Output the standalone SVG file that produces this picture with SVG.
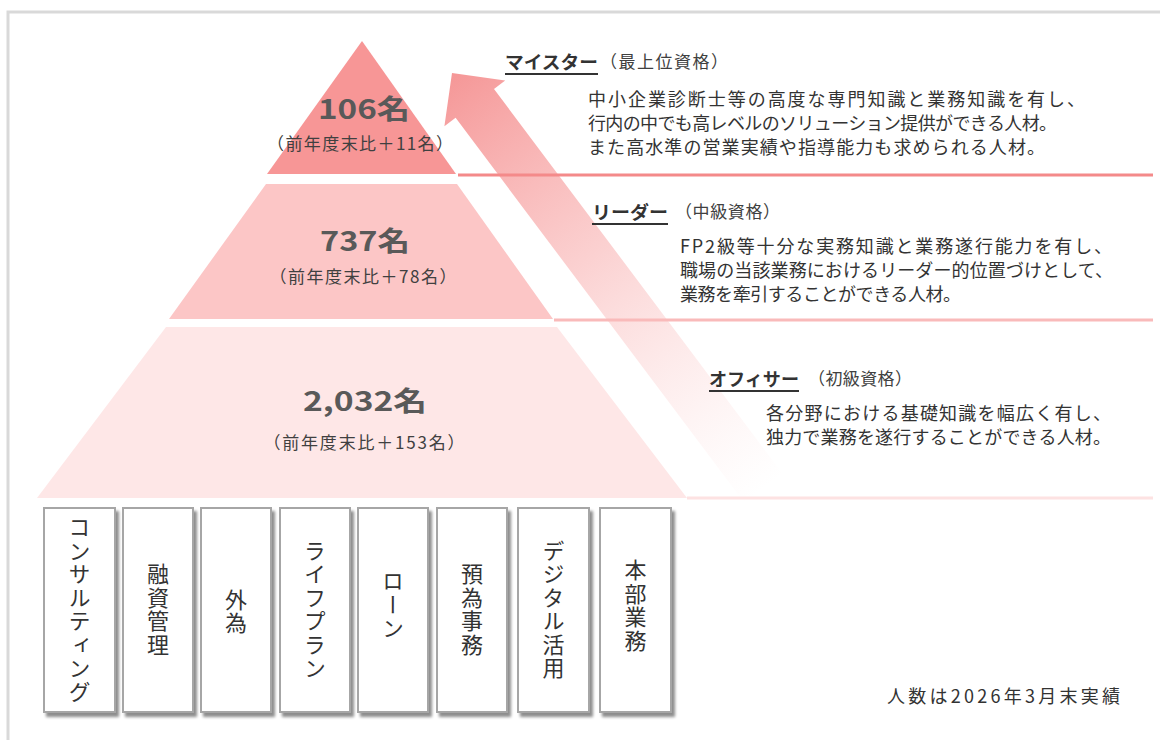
<svg xmlns="http://www.w3.org/2000/svg" width="1160" height="740" viewBox="0 0 1160 740">
<defs>
<linearGradient id="arrowGrad" gradientUnits="userSpaceOnUse" x1="452" y1="73" x2="764" y2="489">
<stop offset="0" stop-color="#f59797" stop-opacity="1"/>
<stop offset="0.45" stop-color="#f8acac" stop-opacity="0.55"/>
<stop offset="1" stop-color="#fbd0d0" stop-opacity="0"/>
</linearGradient>
<filter id="shadow" x="-20%" y="-10%" width="150%" height="130%">
<feGaussianBlur in="SourceAlpha" stdDeviation="1.6"/>
<feOffset dx="3" dy="4" result="b"/>
<feComponentTransfer><feFuncA type="linear" slope="0.45"/></feComponentTransfer>
<feMerge><feMergeNode/><feMergeNode in="SourceGraphic"/></feMerge>
</filter>
<style>
text { font-family: "Noto Sans CJK JP", "Noto Sans", sans-serif; }
.num { font-size: 27px; font-weight: bold; fill: #595959; }
.sub { font-size: 17px; fill: #404040; }
.title { font-size: 18px; font-weight: bold; fill: #333333; }
.paren { font-size: 17px; fill: #404040; }
.desc { font-size: 18px; fill: #333333; }
.uline { stroke: #333333; stroke-width: 1.8; }
.box { fill: #ffffff; stroke: #a6a6a6; stroke-width: 2; }
.vt { font-size: 22px; fill: #333333; writing-mode: vertical-rl; text-orientation: upright; letter-spacing: 1.5px; }
.sep { stroke-width: 3; fill: none; }
</style>
</defs>

<rect x="8" y="12" width="1170" height="760" fill="#ffffff" stroke="#d9d9d9" stroke-width="3"/>

<g id="tier-meister">
<polygon points="362,41 456,174 267,174" fill="#f79696"/>
<text class="num" x="364" y="119" text-anchor="middle" textLength="92" lengthAdjust="spacingAndGlyphs">106名</text>
<text class="sub" x="360" y="150" text-anchor="middle" textLength="186" lengthAdjust="spacing">（前年度末比＋11名）</text>
</g>

<g id="tier-leader">
<polygon points="266,184 457,184 553,319 169,319" fill="#fcc6c6"/>
<text class="num" x="365" y="251" text-anchor="middle" textLength="90" lengthAdjust="spacingAndGlyphs">737名</text>
<text class="sub" x="363" y="283" text-anchor="middle" textLength="187" lengthAdjust="spacing">（前年度末比＋78名）</text>
</g>

<g id="tier-officer">
<polygon points="166,327 557,327 687,498 37,498" fill="#fee7e7"/>
<text class="num" x="365" y="411" text-anchor="middle" textLength="124" lengthAdjust="spacingAndGlyphs">2,032名</text>
<text class="sub" x="364" y="449" text-anchor="middle" textLength="201" lengthAdjust="spacing">（前年度末比＋153名）</text>
</g>

<g id="connectors">
<polygon points="452,73 505.2,80.6 494,89 782.2,473.2 743.8,502 455.6,117.8 444.4,126.2" fill="url(#arrowGrad)"/>
<line class="sep" x1="458" y1="175" x2="1153" y2="175" stroke="#f48a8a"/>
<line class="sep" x1="554" y1="320" x2="1153" y2="320" stroke="#f9baba"/>
<line class="sep" x1="687" y1="498" x2="1153" y2="498" stroke="#fde2e2"/>
</g>

<g id="label-meister">
<text class="title" x="505" y="69" textLength="93" lengthAdjust="spacingAndGlyphs">マイスター</text>
<line class="uline" x1="505" y1="74" x2="598" y2="74"/>
<text class="paren" x="600" y="68" textLength="128" lengthAdjust="spacing">（最上位資格）</text>
<text class="desc" x="588" y="106" textLength="497" lengthAdjust="spacing">中小企業診断士等の高度な専門知識と業務知識を有し、</text>
<text class="desc" x="588" y="130" textLength="469" lengthAdjust="spacing">行内の中でも高レベルのソリューション提供ができる人材。</text>
<text class="desc" x="588" y="154" textLength="457" lengthAdjust="spacing">また高水準の営業実績や指導能力も求められる人材。</text>
</g>

<g id="label-leader">
<text class="title" x="592" y="219" textLength="76" lengthAdjust="spacingAndGlyphs">リーダー</text>
<line class="uline" x1="592" y1="224" x2="668" y2="224"/>
<text class="paren" x="675" y="218" textLength="105" lengthAdjust="spacing">（中級資格）</text>
<text class="desc" x="680" y="253" textLength="432" lengthAdjust="spacing">FP2級等十分な実務知識と業務遂行能力を有し、</text>
<text class="desc" x="680" y="277" textLength="433" lengthAdjust="spacing">職場の当該業務におけるリーダー的位置づけとして、</text>
<text class="desc" x="680" y="301" textLength="281" lengthAdjust="spacing">業務を牽引することができる人材。</text>
</g>

<g id="label-officer">
<text class="title" x="709" y="386" textLength="90" lengthAdjust="spacingAndGlyphs">オフィサー</text>
<line class="uline" x1="709" y1="391" x2="799" y2="391"/>
<text class="paren" x="808" y="385" textLength="104" lengthAdjust="spacing">（初級資格）</text>
<text class="desc" x="766" y="420" textLength="345" lengthAdjust="spacing">各分野における基礎知識を幅広く有し、</text>
<text class="desc" x="766" y="444" textLength="345" lengthAdjust="spacing">独力で業務を遂行することができる人材。</text>
</g>

<g id="box-consulting"><rect class="box" x="44" y="508" width="71" height="204" filter="url(#shadow)"/><text class="vt" x="79.5" y="610" text-anchor="middle">コンサルティング</text></g>
<g id="box-loan-mgmt"><rect class="box" x="123" y="508" width="70" height="204" filter="url(#shadow)"/><text class="vt" x="158" y="610" text-anchor="middle">融資管理</text></g>
<g id="box-forex"><rect class="box" x="201" y="508" width="70" height="204" filter="url(#shadow)"/><text class="vt" x="236" y="612" text-anchor="middle">外為</text></g>
<g id="box-lifeplan"><rect class="box" x="280" y="508" width="70" height="204" filter="url(#shadow)"/><text class="vt" x="315" y="610" text-anchor="middle">ライフプラン</text></g>
<g id="box-loan"><rect class="box" x="358" y="508" width="70" height="204" filter="url(#shadow)"/><text class="vt" x="393" y="605" text-anchor="middle">ローン</text></g>
<g id="box-deposit"><rect class="box" x="437" y="508" width="70" height="204" filter="url(#shadow)"/><text class="vt" x="472" y="610" text-anchor="middle">預為事務</text></g>
<g id="box-digital"><rect class="box" x="518" y="508" width="71" height="204" filter="url(#shadow)"/><text class="vt" x="553.5" y="610" text-anchor="middle">デジタル活用</text></g>
<g id="box-hq"><rect class="box" x="600" y="508" width="71" height="204" filter="url(#shadow)"/><text class="vt" x="635.5" y="606" text-anchor="middle">本部業務</text></g>

<g id="footnote">
<text class="desc" x="887" y="703" textLength="233" lengthAdjust="spacing">人数は2026年3月末実績</text>
</g>
</svg>
